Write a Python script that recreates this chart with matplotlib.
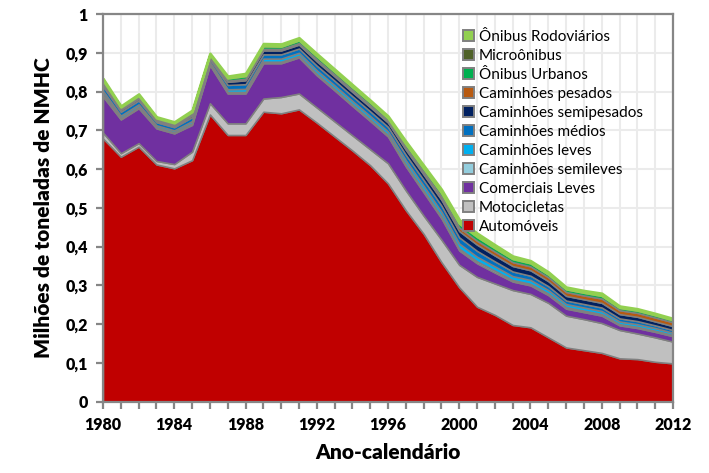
import matplotlib
matplotlib.use("Agg")
import matplotlib.pyplot as plt
from matplotlib.patches import Patch

years = list(range(1980, 2013))

automoveis = [.679, .632, .658, .612, .602, .623, .741, .688, .688, .748, .744, .754,
              .720, .684, .648, .610, .563, .494, .433, .360, .295, .245, .224, .198,
              .192, .166, .140, .133, .126, .112, .110, .103, .099]
motocicletas = [.015, .009, .009, .009, .011, .022, .029, .030, .030, .034, .042, .041,
                .039, .039, .039, .041, .052, .051, .047, .058, .058, .077, .081, .090,
                .086, .089, .082, .080, .077, .073, .066, .063, .056]
comerciais_leves = [.093, .087, .090, .084, .079, .069, .098, .077, .077, .091, .087, .093,
                    .083, .080, .076, .073, .069, .062, .060, .055, .037, .035, .028, .022,
                    .022, .020, .018, .018, .019, .012, .014, .014, .014]
cam_semileves = [.007, .004, .004, .003, .003, .004, .003, .004, .004, .004, .004, .004,
                 .004, .004, .004, .004, .004, .005, .005, .005, .005, .005, .005, .004,
                 .004, .004, .004, .004, .004, .003, .003, .003, .003]
cam_leves = [.008, .006, .006, .005, .005, .006, .005, .007, .008, .008, .008, .008,
             .009, .009, .009, .009, .009, .011, .012, .012, .013, .012, .011, .010,
             .010, .009, .008, .008, .008, .007, .007, .007, .006]
cam_medios = [.012, .010, .010, .008, .008, .010, .008, .011, .012, .011, .011, .011,
              .012, .012, .012, .012, .012, .014, .015, .016, .016, .015, .013, .012,
              .011, .010, .009, .009, .009, .008, .008, .007, .007]
cam_semipesados = [.006, .005, .005, .004, .004, .005, .004, .008, .010, .010, .010, .010,
                   .011, .011, .011, .011, .011, .013, .014, .015, .016, .016, .015, .014,
                   .014, .013, .012, .012, .012, .011, .011, .010, .010]
cam_pesados = [.003, .002, .002, .002, .002, .003, .002, .003, .004, .004, .004, .004,
               .005, .005, .005, .005, .005, .006, .007, .008, .009, .010, .010, .010,
               .010, .010, .010, .010, .011, .010, .010, .010, .010]
onibus_urbanos = [.005, .004, .005, .004, .004, .005, .004, .006, .007, .007, .006, .007,
                  .008, .007, .007, .007, .006, .008, .008, .009, .010, .010, .009, .008,
                  .008, .007, .007, .007, .007, .006, .006, .006, .005]
microonibus = [.001] * 33
onibus_rodoviarios = [.005, .003, .004, .003, .003, .004, .004, .005, .006, .006, .006, .006,
                      .006, .006, .006, .005, .005, .007, .008, .009, .010, .009, .008, .007,
                      .006, .006, .005, .005, .006, .004, .004, .004, .004]

labels = ["Automóveis", "Motocicletas", "Comerciais Leves", "Caminhões semileves",
          "Caminhões leves", "Caminhões médios", "Caminhões semipesados",
          "Caminhões pesados", "Ônibus Urbanos", "Microônibus", "Ônibus Rodoviários"]
series = [automoveis, motocicletas, comerciais_leves, cam_semileves, cam_leves,
          cam_medios, cam_semipesados, cam_pesados, onibus_urbanos, microonibus,
          onibus_rodoviarios]
colors = ["#C00000", "#C0C0C0", "#7030A0", "#93CDDD", "#00B0F0", "#0070C0",
          "#002060", "#B85A10", "#00B050", "#4F6228", "#92D050"]

plt.rcParams['font.family'] = ['Lato', 'DejaVu Sans']

fig = plt.figure(figsize=(7.09, 4.73), dpi=100)
ax = fig.add_axes([0.1453, 0.1507, 0.9492 - 0.1453, 0.9704 - 0.1507])

polys = ax.stackplot(years, *series, colors=colors, edgecolor="#808080",
                     linewidth=1.1, zorder=3)
polys[-1].set_edgecolor("#92D050")
polys[-1].set_linewidth(1.8)

ax.set_xlim(1980, 2012)
ax.set_ylim(0, 1)
ax.set_xticks(years)
ax.set_xticklabels([str(y) if (y - 1980) % 4 == 0 else "" for y in years])
yt = [i / 10 for i in range(11)]
ax.set_yticks(yt)
ax.set_yticklabels(["0"] + [f"0,{i}" for i in range(1, 10)] + ["1"])
ax.grid(True, color="#EBEBEB", linewidth=1.5, zorder=0)
ax.set_axisbelow(True)

for s in ax.spines.values():
    s.set_color("#868686")
    s.set_linewidth(1.6)
    s.set_zorder(5)
ax.tick_params(axis="both", direction="out", length=5, width=1.6, color="#868686",
               labelsize=11.5, pad=6)
for t in ax.get_xticklabels() + ax.get_yticklabels():
    t.set_fontweight("heavy")

ax.set_xlabel("Ano-calendário", fontsize=15, fontweight="heavy", labelpad=7)
ax.set_ylabel("Milhões de toneladas de NMHC", fontsize=15, fontweight="heavy", labelpad=9)

handles = [Patch(facecolor=c, edgecolor="#808080", linewidth=1.4) for c in colors]
leg = ax.legend(handles[::-1], labels[::-1], loc="upper left",
                bbox_to_anchor=(0.62, 0.975), frameon=False, fontsize=11,
                handlelength=0.75, handleheight=0.75, handletextpad=0.3,
                labelspacing=0.33, borderaxespad=0)
leg.set_zorder(6)

fig.savefig("out.png", dpi=100)
